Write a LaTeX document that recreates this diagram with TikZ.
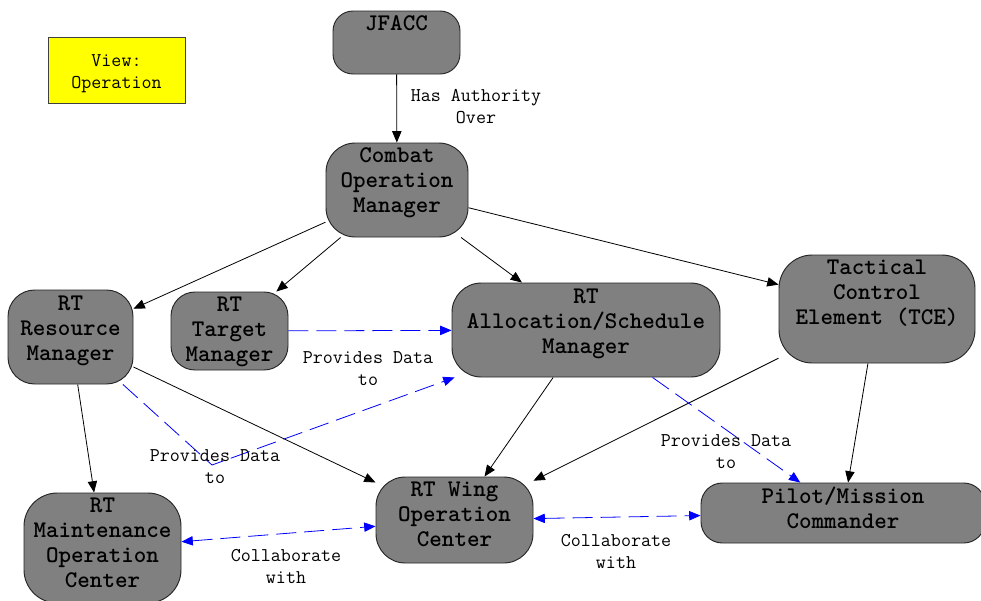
\documentclass[tikz,border=0pt]{standalone}
\usepackage{fontspec}
\usetikzlibrary{arrows.meta}
\definecolor{boxgray}{HTML}{808080}
\definecolor{edgeblue}{HTML}{0000FF}
\definecolor{viewyellow}{HTML}{FFFF00}
\begin{document}
\begin{tikzpicture}[x=0.75pt,y=-0.75pt,
  box/.style={draw=black!85, fill=boxgray, rounded corners=#1, inner sep=0, line width=0.7pt, rectangle},
  sz/.style 2 args={minimum width=#1*0.75pt, minimum height=#2*0.75pt},
  ntxt/.style={font=\ttfamily\bfseries\fontsize{17.9}{18.75}\selectfont, align=center, anchor=north, inner sep=0},
  elab/.style={font=\ttfamily\fontsize{14.6}{16.5}\selectfont, align=center, anchor=north, inner sep=0},
  arr/.style={line width=0.6pt, -{Triangle[length=8.5pt,width=7pt]}},
  darr/.style={line width=0.6pt, draw=edgeblue, dash pattern=on 15pt off 6pt, -{Triangle[length=8.5pt,width=7pt]}},
  ddarr/.style={line width=0.6pt, draw=edgeblue, dash pattern=on 15pt off 6pt, {Triangle[length=8.5pt,width=7pt]}-{Triangle[length=8.5pt,width=7pt]}}
]
\useasboundingbox (0,0) rectangle (981,600);
\clip (0,0) rectangle (981,600);
\fill[white] (0,0) rectangle (981,600);

% view box
\node[draw=black!75, fill=viewyellow, line width=0.7pt, rectangle, sz={137}{66}] (view) at (116.5,70) {};
\node[elab] (viewt) at (116.5,54) {View:\\Operation};

% boxes
\node[box=15pt, sz={127}{63}] (jfacc) at (396.5,42.5) {};
\node[box=22pt, sz={142}{94}] (combat) at (397,190) {};
\node[box=20pt, sz={125}{94}] (res) at (70.5,337) {};
\node[box=18pt, sz={117}{78}] (target) at (229.5,331) {};
\node[box=22pt, sz={268}{94}] (alloc) at (586,330) {};
\node[box=25pt, sz={196}{108}] (tce) at (877,309) {};
\node[box=25pt, sz={157}{110}] (maint) at (102.5,548) {};
\node[box=22pt, sz={157}{86}] (wing) at (454.5,520) {};
\node[box=16pt, sz={284}{60}] (pilot) at (843,513) {};

% node texts
\node[ntxt] (jfacct) at (396.5,15) {JFACC};
\node[ntxt] (combatt) at (397,147) {Combat\\Operation\\Manager};
\node[ntxt] (rest) at (70.5,296) {RT\\Resource\\Manager};
\node[ntxt] (targett) at (229.5,297) {RT\\Target\\Manager};
\node[ntxt] (alloct) at (586,289) {RT\\Allocation/Schedule\\Manager};
\node[ntxt] (tcet) at (877,260) {Tactical\\Control\\Element (TCE)};
\node[ntxt] (maintt) at (102.5,498) {RT\\Maintenance\\Operation\\Center};
\node[ntxt] (wingt) at (454.5,482) {RT Wing\\Operation\\Center};
\node[ntxt] (pilott) at (843,487) {Pilot/Mission\\Commander};

% edges
\draw[arr] (jfacc) -- (combat);
\draw[arr] (combat) -- (res);
\draw[arr] (combat) -- (target);
\draw[arr] (combat) -- (alloc);
\draw[arr] (combat) -- (tce);
\draw[darr] (target) -- (alloc);
\draw[arr] (res) -- (wing);
\draw[arr] (res) -- (maint);
\coordinate (bend) at (212,465);
\draw[darr] (res) -- (bend) -- (alloc);
\draw[arr] (alloc) -- (wing);
\draw[arr] (tce) -- (wing);
\draw[darr] (alloc) -- (pilot);
\draw[arr] (tce) -- (pilot);
\draw[ddarr] (maint) -- (wing);
\draw[ddarr] (wing) -- (pilot);

% edge labels
\node[elab] (l1) at (476,89) {Has Authority\\Over};
\node[elab] (l2) at (368,351) {Provides Data\\to};
\node[elab] (l3) at (215,449) {Provides Data\\to};
\node[elab] (l4) at (726,434) {Provides Data\\to};
\node[elab] (l5) at (286,549) {Collaborate\\with};
\node[elab] (l6) at (616,534) {Collaborate\\with};
\end{tikzpicture}
\end{document}
